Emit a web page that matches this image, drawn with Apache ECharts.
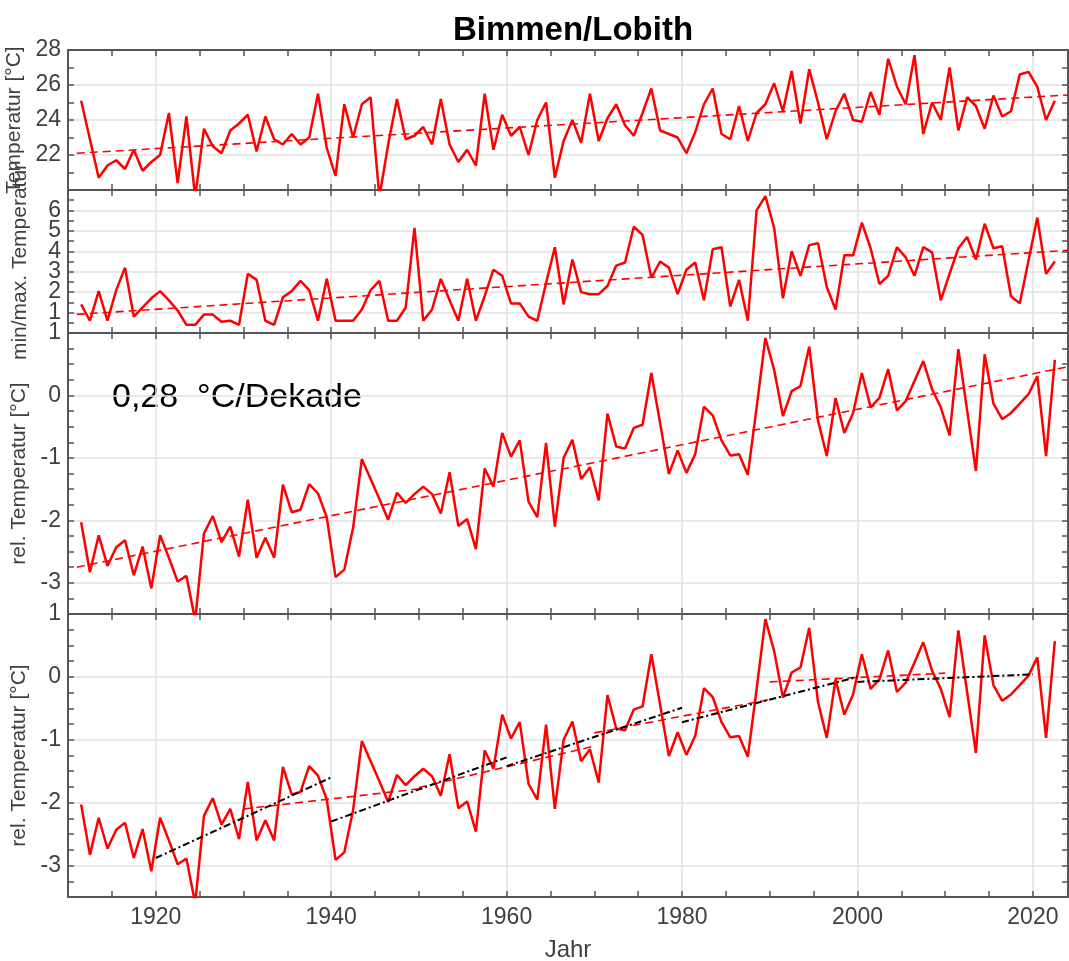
<!DOCTYPE html>
<html><head><meta charset="utf-8">
<script src="https://cdn.jsdelivr.net/npm/echarts@6/dist/echarts.min.js"></script>
<style>html,body{margin:0;padding:0;background:#fff}#c{width:1069px;height:961px}</style>
</head><body><div id="c"></div>
<script>
// ---- data ----
const years = [1911,1912,1913,1914,1915,1916,1917,1918,1919,1920,1921,1922,1923,1924,1925,1926,1927,1928,1929,1930,
1931,1932,1933,1934,1935,1936,1937,1938,1939,1940,1941,1942,1943,1944,1945,1946,1947,1948,1949,1950,
1951,1952,1953,1954,1955,1956,1957,1958,1959,1960,1961,1962,1963,1964,1965,1966,1967,1968,1969,1970,
1971,1972,1973,1974,1975,1976,1977,1978,1979,1980,1981,1982,1983,1984,1985,1986,1987,1988,1989,1990,
1991,1992,1993,1994,1995,1996,1997,1998,1999,2000,2001,2002,2003,2004,2005,2006,2007,2008,2009,2010,
2011,2012,2013,2014,2015,2016,2017,2018,2019,2020,2021,2022];
const tempMax = [25.1,22.9,20.7,21.4,21.7,21.2,22.3,21.1,21.6,22.0,24.4,20.4,24.2,19.6,23.5,22.5,22.1,23.4,23.8,24.3,
22.2,24.2,22.9,22.6,23.2,22.6,23.0,25.5,22.4,20.8,24.9,23.0,24.9,25.3,19.6,22.6,25.2,22.9,23.1,23.6,
22.6,25.2,22.6,21.6,22.3,21.4,25.5,22.3,24.3,23.1,23.6,22.0,24.0,25.0,20.7,22.8,24.0,22.7,25.5,22.8,
24.1,24.9,23.7,23.1,24.4,25.8,23.4,23.2,23.0,22.1,23.3,24.9,25.8,23.2,22.9,24.8,22.8,24.4,24.9,26.1,
24.5,26.8,23.8,26.9,25.0,22.9,24.5,25.5,24.0,23.9,25.6,24.3,27.5,25.9,24.9,27.7,23.2,25.0,24.0,27.0,
23.4,25.3,24.8,23.5,25.4,24.2,24.5,26.6,26.75,25.9,24.0,25.1];
const minMaxDiff = [1.4,0.6,2.05,0.6,2.1,3.2,0.8,1.25,1.7,2.05,1.6,1.1,0.4,0.4,0.9,0.9,0.55,0.6,0.4,2.9,
2.6,0.6,0.4,1.75,2.05,2.55,2.1,0.6,2.65,0.6,0.6,0.6,1.15,2.1,2.55,0.6,0.6,1.25,5.15,0.6,
1.15,2.65,1.6,0.6,2.65,0.6,1.8,3.1,2.8,1.45,1.45,0.8,0.6,2.45,4.2,1.4,3.6,2.0,1.9,1.9,
2.3,3.3,3.45,5.2,4.8,2.7,3.5,3.2,1.9,3.1,3.45,1.6,4.1,4.2,1.3,2.6,0.6,6.0,6.7,5.15,
1.7,4.0,2.8,4.3,4.4,2.25,1.15,3.8,3.8,5.4,4.15,2.4,2.8,4.2,3.7,2.8,4.2,3.95,1.6,2.9,
4.15,4.7,3.6,5.35,4.15,4.25,1.8,1.45,3.55,5.65,2.9,3.5];
const relTemp = [-2.03,-2.83,-2.24,-2.73,-2.43,-2.32,-2.88,-2.42,-3.09,-2.24,-2.6,-2.98,-2.89,-3.6,-2.21,-1.93,-2.35,-2.1,-2.58,-1.67,
-2.6,-2.28,-2.6,-1.43,-1.87,-1.83,-1.42,-1.57,-1.95,-2.91,-2.79,-2.12,-1.02,-1.34,-1.66,-1.99,-1.56,-1.72,-1.58,-1.46,
-1.58,-1.89,-1.23,-2.09,-1.98,-2.46,-1.17,-1.46,-0.6,-0.98,-0.72,-1.7,-1.95,-0.76,-2.1,-1.0,-0.71,-1.34,-1.15,-1.68,
-0.29,-0.82,-0.85,-0.52,-0.47,0.36,-0.44,-1.26,-0.88,-1.24,-0.94,-0.18,-0.32,-0.72,-0.96,-0.94,-1.27,-0.2,0.92,0.41,
-0.33,0.07,0.15,0.78,-0.4,-0.97,-0.04,-0.6,-0.28,0.36,-0.19,-0.04,0.42,-0.24,-0.09,0.23,0.55,0.1,-0.19,-0.64,
0.74,-0.24,-1.21,0.66,-0.13,-0.38,-0.28,-0.13,0.02,0.31,-0.97,0.57];
const trendTemp = [[1911,22.1],[2024,25.43]];
const trendMinMax = [[1911,0.91],[2024,4.05]];
const trendRel = [[1911,-2.75],[2024,0.46]];
// 20-year trend segments: [startYear, startValue, endYear, endValue]
const segBlack = [[1920,-2.88,1940,-1.60],[1940,-2.30,1960,-1.28],[1960,-1.42,1980,-0.49],[1980,-0.72,2000,0.0],[2000,-0.08,2020,0.04]];
const segRed = [[1930,-2.10,1950,-1.78],[1950,-1.76,1970,-1.10],[1970,-0.89,1990,-0.36],[1990,-0.08,2010,0.06]];
const xTickLabels = [1920,1940,1960,1980,2000,2020];
const yLabels1 = [22,24,26,28];
const yLabels2 = [1,2,3,4,5,6];
const yLabels34 = [-3,-2,-1,0,1];
const trendText = '0,28  °C/Dekade';
const titleText = 'Bimmen/Lobith';

// ---- chart ----
const FONT = "'Liberation Sans', Arial, sans-serif";
const NFONT = "'Liberation Sans Narrow', 'Arial Narrow', 'Liberation Sans', sans-serif";
const AX = '#555555';
const GRIDC = '#e2e2e2';
const T = 'rgba(0,0,0,0)';
const panels = [
  {top:50, height:140, min:20, max:28, interval:1, labels:yLabels1, name:'Temperatur [°C]', sl:[GRIDC,T]},
  {top:190, height:143, min:0, max:7, interval:0.5, labels:yLabels2, name:'min/max. Temperatur', sl:[GRIDC,T]},
  {top:333, height:281, min:-3.5, max:1, interval:0.25, labels:yLabels34, name:'rel. Temperatur [°C]', sl:[T,T,GRIDC,T]},
  {top:614, height:283, min:-3.5, max:1, interval:0.25, labels:yLabels34, name:'rel. Temperatur [°C]', sl:[T,T,GRIDC,T]}
];
const grid=[], xAxis=[], yAxis=[], series=[];
panels.forEach((p,i)=>{
  grid.push({left:68, right:1, top:p.top, height:p.height, containLabel:false, outerBoundsMode:'none'});
  const isLast = i===panels.length-1;
  const xBase = {type:'value', gridIndex:i, min:1910, max:2024, interval:5,
    axisLine:{show:true, onZero:false, lineStyle:{color:AX, width:2}},
    axisTick:{show:true, inside:true, length:6, lineStyle:{color:AX, width:1.5}},
    axisPointer:{show:false}};
  xAxis.push(Object.assign({}, xBase, {position:'bottom',
    splitLine:{show:true, lineStyle:{color:[T,T,GRIDC,T], width:1.5}},
    axisLabel:{show:isLast, margin:9, fontFamily:NFONT, fontSize:23, color:'#404040',
      formatter:v=> xTickLabels.includes(Math.round(v)) && Math.abs(v-Math.round(v))<1e-6 ? String(Math.round(v)) : ''},
    name:isLast?'Jahr':'', nameLocation:'middle', nameGap:41,
    nameTextStyle:{fontFamily:NFONT, fontSize:24, color:'#404040'}}));
  xAxis.push(Object.assign({}, xBase, {position:'top', splitLine:{show:false}, axisLabel:{show:false}}));
  const yBase = {type:'value', gridIndex:i, min:p.min, max:p.max, interval:p.interval,
    axisLine:{show:true, onZero:false, lineStyle:{color:AX, width:2}},
    axisTick:{show:true, inside:true, length:6, lineStyle:{color:AX, width:1.5}},
    axisPointer:{show:false}};
  yAxis.push(Object.assign({}, yBase, {position:'left',
    splitLine:{show:true, lineStyle:{color:p.sl, width:1.5}},
    axisLabel:{show:true, margin:7, fontFamily:NFONT, fontSize:23, color:'#404040',
      formatter:v=>{const r=Math.round(v); return (Math.abs(v-r)<1e-6 && p.labels.includes(r)) ? String(r) : '';}},
    name:p.name, nameLocation:'middle', nameGap:37, nameRotate:90,
    nameTextStyle:{fontFamily:NFONT, fontSize:21, color:'#404040'}}));
  yAxis.push(Object.assign({}, yBase, {position:'right', splitLine:{show:false}, axisLabel:{show:false}}));
});
const pts = vals => years.map((y,k)=>[y+0.5, vals[k]]);
function dataLine(idx, vals){
  return {type:'line', xAxisIndex:idx*2, yAxisIndex:idx*2, data:pts(vals), showSymbol:false, symbol:'none',
    lineStyle:{color:'#ff0000', width:2.5}, silent:true, z:3, clip:true};
}
function trendLine(idx, d){
  return {type:'line', xAxisIndex:idx*2, yAxisIndex:idx*2, data:d, showSymbol:false, symbol:'none',
    lineStyle:{color:'#ff0000', width:1.6, type:[8,5]}, silent:true, z:4};
}
series.push(dataLine(0,tempMax), trendLine(0,trendTemp));
series.push(dataLine(1,minMaxDiff), trendLine(1,trendMinMax));
series.push(dataLine(2,relTemp), trendLine(2,trendRel));
series.push(dataLine(3,relTemp));
segRed.forEach(s=>series.push(trendLine(3,[[s[0],s[1]],[s[2],s[3]]])));
segBlack.forEach(s=>series.push({type:'line', xAxisIndex:6, yAxisIndex:6, data:[[s[0],s[1]],[s[2],s[3]]],
  showSymbol:false, symbol:'none', lineStyle:{color:'#000', width:2, type:[7,3,2,3]}, silent:true, z:5}));

const chart = echarts.init(document.getElementById('c'), null, {renderer:'canvas'});
chart.setOption({
  animation:false, backgroundColor:'#fff',
  grid, xAxis, yAxis, series,
  graphic:[
    {type:'text', x:573, y:31, style:{text:titleText, fontFamily:FONT, fontSize:33, fontWeight:'bold', fill:'#000', align:'center', verticalAlign:'middle'}},
    {type:'text', x:112, y:398, style:{text:trendText, fontFamily:FONT, fontSize:34, fill:'#000', align:'left', verticalAlign:'middle'}}
  ]
});
</script></body></html>
